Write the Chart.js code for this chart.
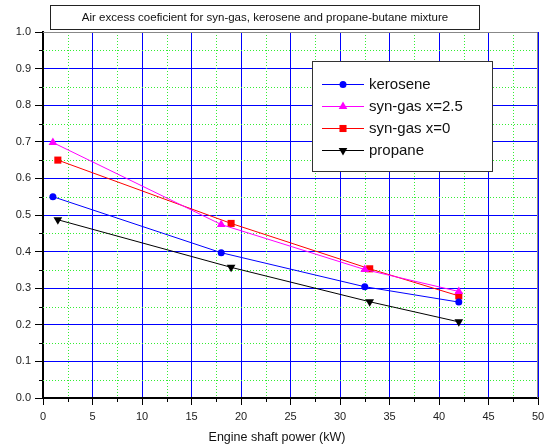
<!DOCTYPE html>
<html>
<head>
<meta charset="utf-8">
<script src="https://cdn.jsdelivr.net/npm/chart.js@4.4.0/dist/chart.umd.min.js"></script>
<style>
  html, body { margin: 0; padding: 0; background: #fff; }
  canvas { display: block; }
</style>
</head>
<body>
<canvas id="chart" width="547" height="447"></canvas>
<script>
// chart data
var titleText = 'Air excess coeficient for syn-gas, kerosene and propane-butane mixture';
var xAxisTitle = 'Engine shaft power (kW)';
var seriesNames = ['kerosene', 'syn-gas x=2.5', 'syn-gas x=0', 'propane'];

var keroseneX = [1, 18, 32.5, 42];
var keroseneY = [0.550, 0.397, 0.304, 0.262];
var synGas25X = [1, 18, 32.5, 42];
var synGas25Y = [0.698, 0.474, 0.351, 0.291];
var synGas0X = [1.5, 19, 33, 42];
var synGas0Y = [0.650, 0.477, 0.353, 0.279];
var propaneX = [1.5, 19, 33, 42];
var propaneY = [0.487, 0.357, 0.263, 0.208];

var xTicks = [0, 5, 10, 15, 20, 25, 30, 35, 40, 45, 50];
var yTicks = [0, 0.1, 0.2, 0.3, 0.4, 0.5, 0.6, 0.7, 0.8, 0.9, 1.0];

function pairs(xs, ys) {
  return xs.map(function (x, i) { return { x: x, y: ys[i] }; });
}

var FONT = 'Arial, "Liberation Sans", sans-serif';

// draw a marker shape (used for the legend)
function marker(ctx, ds, x, y) {
  var r = ds.pointRadius;
  ctx.save();
  ctx.fillStyle = ds.pointBackgroundColor;
  ctx.beginPath();
  if (ds.pointStyle === 'circle') {
    ctx.arc(x, y, r, 0, Math.PI * 2);
  } else if (ds.pointStyle === 'rect') {
    var s = r * Math.SQRT1_2;
    ctx.rect(x - s, y - s, 2 * s, 2 * s);
  } else {
    var dir = ds.pointRotation === 180 ? -1 : 1;
    var h = r * 1.5;
    ctx.moveTo(x - r * 0.866, y + dir * h / 3);
    ctx.lineTo(x + r * 0.866, y + dir * h / 3);
    ctx.lineTo(x, y - dir * h * 2 / 3);
    ctx.closePath();
  }
  ctx.fill();
  ctx.restore();
}

var decor = {
  id: 'decor',
  beforeDatasetsDraw: function (chart) {
    var ctx = chart.ctx, a = chart.chartArea;
    var xs = chart.scales.x, ys = chart.scales.y;
    ctx.save();
    // minor dotted green grid
    ctx.strokeStyle = '#33ee33';
    ctx.lineWidth = 1;
    ctx.setLineDash([1, 2]);
    for (var v = 2.5; v < 50; v += 5) {
      var px = Math.round(xs.getPixelForValue(v)) + 0.5;
      ctx.beginPath(); ctx.moveTo(px, a.top); ctx.lineTo(px, a.bottom); ctx.stroke();
    }
    for (var w = 0.05; w < 1; w += 0.1) {
      var py = Math.round(ys.getPixelForValue(w)) + 0.5;
      ctx.beginPath(); ctx.moveTo(a.left, py); ctx.lineTo(a.right, py); ctx.stroke();
    }
    ctx.setLineDash([]);
    // minor ticks
    ctx.strokeStyle = '#000';
    for (v = 2.5; v < 50; v += 5) {
      px = Math.round(xs.getPixelForValue(v)) + 0.5;
      ctx.beginPath(); ctx.moveTo(px, a.bottom); ctx.lineTo(px, a.bottom + 4); ctx.stroke();
    }
    for (w = 0.05; w < 1; w += 0.1) {
      py = Math.round(ys.getPixelForValue(w)) + 0.5;
      ctx.beginPath(); ctx.moveTo(a.left - 4, py); ctx.lineTo(a.left, py); ctx.stroke();
    }
    // top/right frame
    ctx.strokeStyle = '#888';
    ctx.beginPath();
    ctx.moveTo(a.left, a.top + 0.5); ctx.lineTo(a.right - 0.5, a.top + 0.5);
    ctx.lineTo(a.right - 0.5, a.bottom);
    ctx.stroke();
    ctx.restore();
  },
  afterDraw: function (chart) {
    var ctx = chart.ctx;
    ctx.save();
    // boxed title
    ctx.fillStyle = '#fff';
    ctx.fillRect(50, 5, 429, 24);
    ctx.strokeStyle = '#222';
    ctx.lineWidth = 1;
    ctx.strokeRect(50.5, 5.5, 429, 24);
    ctx.fillStyle = '#111';
    ctx.font = '11.5px ' + FONT;
    ctx.textAlign = 'center';
    ctx.textBaseline = 'middle';
    ctx.fillText(titleText, 265, 18);

    // x axis title
    ctx.font = '12.5px ' + FONT;
    ctx.fillText(xAxisTitle, 277, 438);

    // legend
    var bx = 312, by = 61, bw = 180, bh = 110;
    ctx.fillStyle = '#fff';
    ctx.fillRect(bx, by, bw, bh);
    ctx.strokeStyle = '#333';
    ctx.strokeRect(bx + 0.5, by + 0.5, bw, bh);
    ctx.font = '15px ' + FONT;
    ctx.textAlign = 'left';
    chart.data.datasets.forEach(function (ds, i) {
      var y = by + 23 + i * 22;
      ctx.strokeStyle = ds.borderColor;
      ctx.lineWidth = 1;
      ctx.beginPath();
      ctx.moveTo(bx + 10, y + 0.5); ctx.lineTo(bx + 52, y + 0.5);
      ctx.stroke();
      marker(ctx, ds, bx + 31, y + 0.5);
      ctx.fillStyle = '#111';
      ctx.fillText(ds.label, bx + 57, y + 1);
    });
    ctx.restore();
  }
};

var ctx = document.getElementById('chart').getContext('2d');
var chart = new Chart(ctx, {
  type: 'line',
  data: {
    datasets: [
      { label: seriesNames[0], data: pairs(keroseneX, keroseneY), borderColor: '#0000ff',
        pointBackgroundColor: '#0000ff', pointStyle: 'circle', pointRadius: 3.5, pointRotation: 0 },
      { label: seriesNames[1], data: pairs(synGas25X, synGas25Y), borderColor: '#ff00ff',
        pointBackgroundColor: '#ff00ff', pointStyle: 'triangle', pointRadius: 5, pointRotation: 0 },
      { label: seriesNames[2], data: pairs(synGas0X, synGas0Y), borderColor: '#ff0000',
        pointBackgroundColor: '#ff0000', pointStyle: 'rect', pointRadius: 5, pointRotation: 0 },
      { label: seriesNames[3], data: pairs(propaneX, propaneY), borderColor: '#000000',
        pointBackgroundColor: '#000000', pointStyle: 'triangle', pointRadius: 5, pointRotation: 180 }
    ].map(function (d) {
      d.borderWidth = 1;
      d.pointBorderWidth = 0;
      d.pointBorderColor = d.pointBackgroundColor;
      d.tension = 0;
      d.fill = false;
      return d;
    })
  },
  options: {
    responsive: false,
    animation: false,
    events: [],
    layout: { padding: { top: 32, right: 9, left: 0, bottom: 0 } },
    plugins: { legend: { display: false }, title: { display: false }, tooltip: { enabled: false } },
    scales: {
      x: {
        type: 'linear', min: 0, max: 50,
        afterBuildTicks: function (s) { s.ticks = xTicks.map(function (v) { return { value: v }; }); },
        afterFit: function (s) { s.height = 49; s.paddingLeft = 0; s.paddingRight = 0; },
        grid: { color: '#0000ff', lineWidth: 1, tickColor: '#000', tickLength: 7, drawOnChartArea: true },
        border: { color: '#000', width: 2 },
        ticks: { color: '#222', font: { size: 11, family: FONT }, padding: 5, maxRotation: 0,
          callback: function (v) { return String(v); } }
      },
      y: {
        type: 'linear', min: 0, max: 1,
        afterBuildTicks: function (s) { s.ticks = yTicks.map(function (v) { return { value: v }; }); },
        afterFit: function (s) { s.width = 43; s.paddingTop = 0; s.paddingBottom = 0; },
        grid: { color: '#0000ff', lineWidth: 1, tickColor: '#000', tickLength: 8, drawOnChartArea: true },
        border: { color: '#000', width: 2 },
        ticks: { color: '#222', font: { size: 11, family: FONT }, padding: 4,
          callback: function (v) { return Number(v).toFixed(1); } }
      }
    }
  },
  plugins: [decor]
});
</script>
</body>
</html>
